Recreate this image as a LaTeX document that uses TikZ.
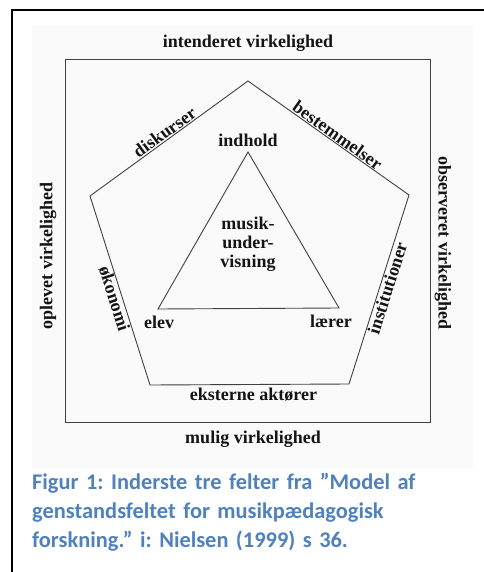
\documentclass[tikz,border=0pt]{standalone}
\usepackage{fontspec}
\setmainfont{Liberation Serif}
\newfontfamily\capfont[WordSpace=0.8]{Carlito}
\usetikzlibrary{calc}
\definecolor{capblue}{RGB}{79,129,189}

\begin{document}
\frenchspacing
\begin{tikzpicture}[x=1pt,y=-1pt,
  lab/.style={font=\fontsize{18}{19}\selectfont\bfseries,text=black!92,inner sep=1pt},
  edge/.style={draw=black!75,line width=0.9pt,line join=miter},
  frame/.style={draw=black,line width=1.8pt}]
\useasboundingbox (0,0) rectangle (483,572);
\fill[white] (0,0) rectangle (483,572);
% scanned figure area
\fill[black!2] (32,25) rectangle (473,468);
\draw[frame] (12,600) -- (12,10) -- (520,10);
% outer field
\node[draw=black!75,line width=0.9pt,minimum width=365pt,minimum height=363pt,inner sep=0pt] (field) at (247.5,240.5) {};
\node[lab] (intend) at (248,43) {intenderet virkelighed};
\node[lab] (mulig) at (253,439) {mulig virkelighed};
\node[lab,rotate=90] (oplev) at (48,256) {oplevet virkelighed};
\node[lab,rotate=-90] (observ) at (443,243) {observeret virkelighed};
% pentagon
\coordinate (ptop) at (248,81);
\coordinate (pr) at (409,195);
\coordinate (pbr) at (349,384);
\coordinate (pbl) at (150,385);
\coordinate (pl) at (90,196);
\draw[edge] (ptop) -- (pr) -- (pbr) -- (pbl) -- (pl) -- cycle;
\path (pl) -- node[lab,sloped,above,pos=0.5] (disk) {diskurser} (ptop);
\path (ptop) -- node[lab,sloped,above,pos=0.53] (bestem) {bestemmelser} (pr);
\path (pl) -- node[lab,sloped,below,pos=0.53] (oekon) {økonomi} (pbl);
\path (pbr) -- node[lab,sloped,below,pos=0.52] (instit) {institutioner} (pr);
\path (pbl) -- node[lab,below=2pt,pos=0.52] (ekst) {eksterne aktører} (pbr);
% triangle
\coordinate (tt) at (248,152);
\coordinate (tl) at (158,309);
\coordinate (tr) at (339,308);
\draw[edge] (tt) -- (tl) -- (tr) -- cycle;
\node[lab] (indhold) at (248,140) {indhold};
\node[lab] (elev) at (159,322) {elev};
\node[lab] (laerer) at (331,321) {lærer};
\node[lab,align=center] (musik) at (248,244) {musik-\\under-\\visning};
% caption
\node[anchor=north west,inner sep=0pt,text width=445pt,align=left,
  font=\capfont\fontsize{22.4}{29}\selectfont\bfseries,text=capblue] (caption) at (32,473)
  {Figur 1: Inderste tre felter fra ”Model af\\genstandsfeltet for musikpædagogisk\\forskning.” i: Nielsen (1999) s 36.};
\end{tikzpicture}
\end{document}
